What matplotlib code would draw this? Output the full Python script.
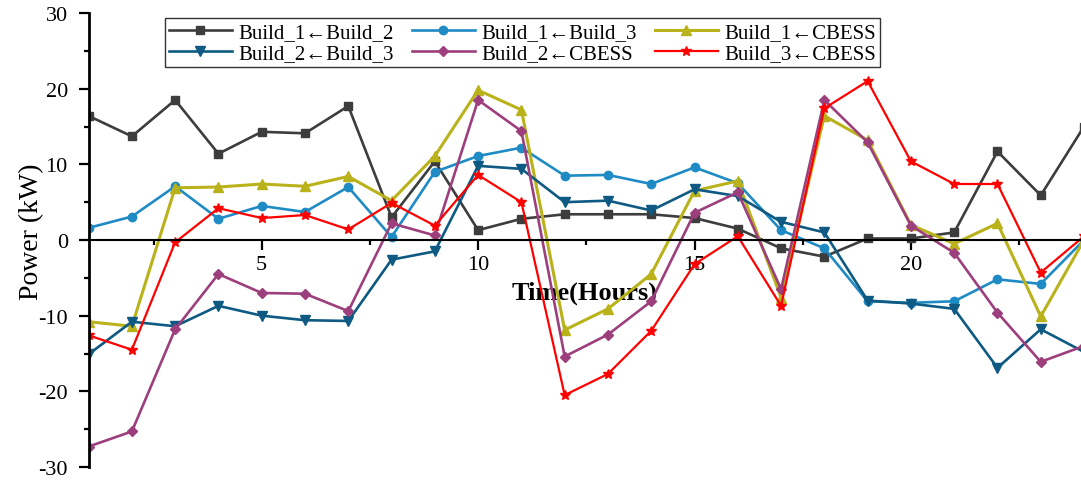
import matplotlib
matplotlib.use("Agg")
import matplotlib.pyplot as plt
from matplotlib.ticker import MultipleLocator

plt.rcParams['font.family'] = ['Liberation Serif', 'DejaVu Serif']
plt.rcParams['axes.unicode_minus'] = False

hours = list(range(1, 25))

b1_from_b2 = [16.4, 13.7, 18.5, 11.4, 14.3, 14.1, 17.7, 3.0, 10.4, 1.3, 2.8, 3.4,
              3.4, 3.4, 2.9, 1.5, -1.1, -2.2, 0.2, 0.2, 1.0, 11.7, 5.9, 15.0]
b1_from_b3 = [1.6, 3.1, 7.1, 2.8, 4.5, 3.7, 7.0, 0.4, 9.0, 11.1, 12.2, 8.5,
              8.6, 7.4, 9.6, 7.5, 1.3, -1.1, -8.1, -8.3, -8.1, -5.2, -5.8, 0.0]
b1_from_cbess = [-10.8, -11.4, 6.9, 7.0, 7.4, 7.1, 8.4, 5.2, 11.1, 19.8, 17.2, -11.9,
                 -9.1, -4.5, 6.5, 7.8, -7.6, 16.4, 13.2, 2.0, -0.5, 2.2, -10.1, 0.0]
b2_from_b3 = [-15.1, -10.8, -11.4, -8.7, -10.0, -10.6, -10.7, -2.6, -1.5, 9.8, 9.4, 5.0,
              5.2, 3.9, 6.7, 5.8, 2.4, 1.0, -8.0, -8.4, -9.1, -16.9, -11.8, -14.8]
b2_from_cbess = [-27.3, -25.3, -11.8, -4.5, -7.0, -7.1, -9.4, 2.2, 0.6, 18.5, 14.4, -15.4,
                 -12.5, -8.1, 3.6, 6.3, -6.5, 18.5, 12.9, 1.9, -1.7, -9.6, -16.1, -14.0]
b3_from_cbess = [-12.6, -14.5, -0.3, 4.2, 2.9, 3.3, 1.4, 4.9, 1.9, 8.6, 5.0, -20.5,
                 -17.7, -12.0, -3.2, 0.5, -8.7, 17.4, 21.0, 10.4, 7.4, 7.4, -4.3, 0.5]

series = [
    ("Build_1\u2190Build_2", b1_from_b2, "#3d3d3d", "s", 6.0, 1.9),
    ("Build_1\u2190Build_3", b1_from_b3, "#1f8bc4", "o", 6.0, 1.9),
    ("Build_1\u2190CBESS", b1_from_cbess, "#bab21b", "^", 7.0, 2.2),
    ("Build_2\u2190Build_3", b2_from_b3, "#0e5a82", "v", 7.0, 1.9),
    ("Build_2\u2190CBESS", b2_from_cbess, "#9c3f7c", "D", 5.0, 1.9),
    ("Build_3\u2190CBESS", b3_from_cbess, "#ff0000", "*", 7.0, 1.6),
]

fig = plt.figure(figsize=(10.81, 4.81), dpi=100)
ax = fig.add_axes([88.6 / 1081, 1 - 468 / 481, 1 - 88.6 / 1081, (468 - 14) / 481])

handles = {}
for label, vals, color, marker, ms, lw in series:
    line, = ax.plot(hours, vals, color=color, marker=marker, markersize=ms,
                    linewidth=lw, label=label, clip_on=True)
    handles[label] = line

ax.set_xlim(1, 23.93)
ax.set_ylim(-30, 30)

ax.spines['top'].set_visible(False)
ax.spines['right'].set_visible(False)
ax.spines['bottom'].set_position(('data', 0))
ax.spines['left'].set_linewidth(2.0)
ax.spines['bottom'].set_linewidth(1.5)

ax.xaxis.set_major_locator(MultipleLocator(5))
ax.xaxis.set_minor_locator(MultipleLocator(2.5))
ax.yaxis.set_major_locator(MultipleLocator(10))
ax.yaxis.set_minor_locator(MultipleLocator(5))
ax.set_xticks([5, 10, 15, 20])

ax.tick_params(axis='both', which='major', direction='out', length=7, width=1.6,
               labelsize=16)
ax.tick_params(axis='both', which='minor', direction='out', length=3.5, width=1.6)
ax.tick_params(axis='y', which='major', pad=8)
ax.tick_params(axis='x', which='major', pad=4)

ax.set_xlabel("Time(Hours)", fontsize=19, fontweight='bold')
ax.xaxis.set_label_coords(0.5, 0.41)
ax.set_ylabel("Power (kW)", fontsize=20)
ax.yaxis.set_label_coords(-0.045, 0.52)

order = [series[i][0] for i in (0, 3, 1, 4, 2, 5)]
leg = ax.legend([handles[k] for k in order], order, ncol=3, loc='upper left',
                bbox_to_anchor=(0.077, 0.988), fontsize=15, frameon=True,
                fancybox=False, edgecolor='black', handlelength=3.0,
                handletextpad=0.3, columnspacing=0.9, labelspacing=0.05,
                borderpad=0.2, borderaxespad=0)
leg.get_frame().set_linewidth(1.0)

fig.savefig("out.png", dpi=100)
